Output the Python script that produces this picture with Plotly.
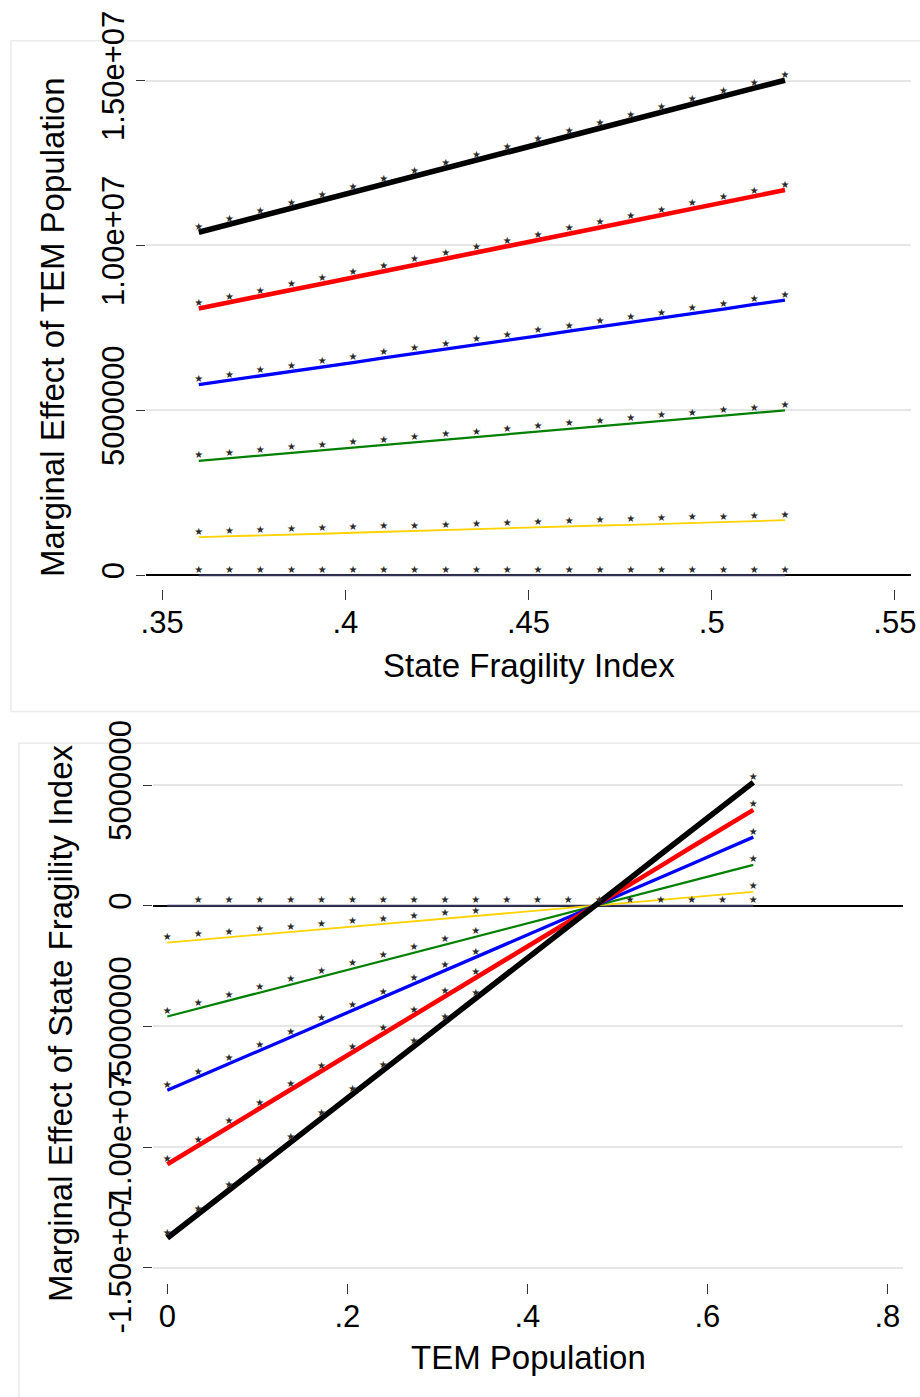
import plotly.graph_objects as go

# ---------------- data ----------------
# Top panel: marginal effect of TEM population across State Fragility Index
sfi = [0.3600, 0.3684, 0.3768, 0.3853, 0.3937, 0.4021, 0.4105, 0.4189, 0.4274, 0.4358,
       0.4442, 0.4526, 0.4611, 0.4695, 0.4779, 0.4863, 0.4947, 0.5032, 0.5116, 0.5200]
top_navy = [0.0] * 20
top_yellow = [1.16e6, 1.18e6, 1.21e6, 1.24e6, 1.26e6, 1.29e6, 1.32e6, 1.34e6, 1.37e6, 1.40e6,
              1.43e6, 1.45e6, 1.48e6, 1.51e6, 1.53e6, 1.56e6, 1.59e6, 1.61e6, 1.64e6, 1.67e6]
top_green = [3.47e6, 3.55e6, 3.63e6, 3.71e6, 3.79e6, 3.87e6, 3.95e6, 4.03e6, 4.11e6, 4.19e6,
             4.28e6, 4.36e6, 4.44e6, 4.52e6, 4.60e6, 4.68e6, 4.76e6, 4.84e6, 4.92e6, 5.00e6]
top_blue = [5.78e6, 5.91e6, 6.05e6, 6.18e6, 6.32e6, 6.45e6, 6.59e6, 6.72e6, 6.86e6, 6.99e6,
            7.13e6, 7.26e6, 7.40e6, 7.53e6, 7.67e6, 7.80e6, 7.94e6, 8.07e6, 8.21e6, 8.34e6]
top_red = [8.09e6, 8.27e6, 8.46e6, 8.65e6, 8.84e6, 9.03e6, 9.22e6, 9.41e6, 9.60e6, 9.79e6,
           9.98e6, 10.16e6, 10.35e6, 10.54e6, 10.73e6, 10.92e6, 11.11e6, 11.30e6, 11.49e6, 11.68e6]
top_black = [10.40e6, 10.64e6, 10.88e6, 11.12e6, 11.37e6, 11.61e6, 11.85e6, 12.10e6, 12.34e6, 12.58e6,
             12.83e6, 13.07e6, 13.31e6, 13.55e6, 13.80e6, 14.04e6, 14.28e6, 14.53e6, 14.77e6, 15.01e6]
top_sig_all = [1] * 20

# Bottom panel: marginal effect of State Fragility Index across TEM population
tem = [0.0000, 0.0343, 0.0685, 0.1028, 0.1371, 0.1713, 0.2056, 0.2399, 0.2742, 0.3084,
       0.3427, 0.3770, 0.4112, 0.4455, 0.4798, 0.5140, 0.5483, 0.5826, 0.6169, 0.6511]
bot_navy = [0.0] * 20
bot_yellow = [-1.53e6, -1.42e6, -1.31e6, -1.20e6, -1.09e6, -0.98e6, -0.87e6, -0.76e6, -0.65e6, -0.54e6,
              -0.43e6, -0.32e6, -0.21e6, -0.10e6, 0.02e6, 0.13e6, 0.24e6, 0.35e6, 0.46e6, 0.57e6]
bot_green = [-4.59e6, -4.26e6, -3.93e6, -3.60e6, -3.26e6, -2.93e6, -2.60e6, -2.27e6, -1.94e6, -1.61e6,
             -1.28e6, -0.95e6, -0.62e6, -0.28e6, 0.05e6, 0.38e6, 0.71e6, 1.04e6, 1.37e6, 1.69e6]
bot_blue = [-7.65e6, -7.10e6, -6.55e6, -5.99e6, -5.44e6, -4.89e6, -4.34e6, -3.79e6, -3.23e6, -2.68e6,
            -2.13e6, -1.58e6, -1.03e6, -0.47e6, 0.08e6, 0.63e6, 1.18e6, 1.73e6, 2.29e6, 2.84e6]
bot_red = [-10.71e6, -9.94e6, -9.16e6, -8.39e6, -7.62e6, -6.85e6, -6.07e6, -5.30e6, -4.53e6, -3.75e6,
           -2.98e6, -2.21e6, -1.44e6, -0.66e6, 0.11e6, 0.88e6, 1.65e6, 2.43e6, 3.20e6, 3.97e6]
bot_black = [-13.77e6, -12.78e6, -11.78e6, -10.79e6, -9.79e6, -8.80e6, -7.81e6, -6.81e6, -5.82e6, -4.83e6,
             -3.83e6, -2.84e6, -1.85e6, -0.85e6, 0.14e6, 1.13e6, 2.13e6, 3.12e6, 4.11e6, 5.11e6]
bot_sig_navy = [0] + [1] * 19
bot_sig_other = [1] * 11 + [0] * 8 + [1]

top_xticks = [0.35, 0.40, 0.45, 0.50, 0.55]
top_xlabels = [".35", ".4", ".45", ".5", ".55"]
top_yticks = [0, 5e6, 1e7, 1.5e7]
top_ylabels = ["0", "5000000", "1.00e+07", "1.50e+07"]
bot_xticks = [0, 0.2, 0.4, 0.6, 0.8]
bot_xlabels = ["0", ".2", ".4", ".6", ".8"]
bot_yticks = [-1.5e7, -1e7, -5e6, 0, 5e6]
bot_ylabels = ["-1.50e+07", "-1.00e+07", "-5000000", "0", "5000000"]

# ---------------- styling ----------------
W, H = 920, 1397
FONT = "Liberation Sans, Arial, sans-serif"
series_style = [  # (color, width) from bottom to top of drawing order
    ("#34345a", 2.0),
    ("#FFD200", 1.8),
    ("#008000", 2.3),
    ("#0000FF", 3.3),
    ("#FF0000", 4.6),
    ("#000000", 5.6),
]
top_series = [top_navy, top_yellow, top_green, top_blue, top_red, top_black]
bot_series = [bot_navy, bot_yellow, bot_green, bot_blue, bot_red, bot_black]

fig = go.Figure()


def add_panel(xs, series, sigs, xa, ya):
    for ys, (col, w) in zip(series, series_style):
        fig.add_trace(go.Scatter(x=xs, y=ys, mode="lines", xaxis=xa, yaxis=ya,
                                 line=dict(color=col, width=w), hoverinfo="skip",
                                 showlegend=False))
    for ys, sg in zip(series, sigs):
        fig.add_trace(go.Scatter(x=xs, y=ys, mode="text", xaxis=xa, yaxis=ya,
                                 text=["★" if s else "" for s in sg],
                                 textposition="top center",
                                 textfont=dict(family="DejaVu Sans", size=10, color="#2a2a2a"),
                                 hoverinfo="skip", showlegend=False))


add_panel(sfi, top_series, [top_sig_all] * 6, "x", "y")
add_panel(tem, bot_series, [bot_sig_navy] + [bot_sig_other] * 5, "x2", "y2")

tickfont = dict(family=FONT, size=31, color="#000000")
common_x = dict(ticks="outside", tickcolor="#333333", tickwidth=1, ticklen=10,
                showgrid=False, zeroline=False, showline=False, tickfont=tickfont,
                automargin=False, ticklabelstandoff=-4)
common_y = dict(ticks="outside", tickcolor="#333333", tickwidth=1, ticklen=9,
                tickangle=-90, showgrid=True, gridcolor="#e6e6e6", gridwidth=1.5,
                zeroline=True, zerolinecolor="#000000", zerolinewidth=1.6,
                showline=False, tickfont=tickfont, automargin=False)

fig.update_layout(
    width=W, height=H,
    margin=dict(l=0, r=0, t=0, b=0, autoexpand=False),
    paper_bgcolor="white", plot_bgcolor="white",
    font=dict(family=FONT, color="#000000"),
    xaxis=dict(domain=[146 / W, 911 / W], anchor="y", range=[0.3456, 0.5544],
               tickvals=top_xticks, ticktext=top_xlabels, **common_x),
    yaxis=dict(domain=[1 - 589 / H, 1 - 65 / H], anchor="x", range=[-0.415e6, 15.47e6],
               tickvals=top_yticks, ticktext=top_ylabels, **common_y),
    xaxis2=dict(domain=[153 / W, 903 / W], anchor="y2", range=[-0.0159, 0.8174],
                tickvals=bot_xticks, ticktext=bot_xlabels, **common_x),
    yaxis2=dict(domain=[1 - 1282.5 / H, 1 - 771 / H], anchor="x2", range=[-15.61e6, 5.58e6],
                tickvals=bot_yticks, ticktext=bot_ylabels, **common_y),
)

# panel outlines
fig.add_shape(type="rect", xref="paper", yref="paper", x0=11 / W, x1=1.02,
              y0=1 - 711.5 / H, y1=1 - 40.7 / H, line=dict(color="#ebebeb", width=1.6), layer="below")
fig.add_shape(type="rect", xref="paper", yref="paper", x0=19 / W, x1=1.02,
              y0=-0.02, y1=1 - 743.3 / H, line=dict(color="#ebebeb", width=1.6), layer="below")

titlefont = dict(family=FONT, size=33, color="#000000")
fig.add_annotation(text="State Fragility Index", xref="paper", yref="paper",
                   x=528.5 / W, y=1 - 665 / H, xanchor="center", yanchor="middle",
                   showarrow=False, font=titlefont)
fig.add_annotation(text="TEM Population", xref="paper", yref="paper",
                   x=528 / W, y=1 - 1357 / H, xanchor="center", yanchor="middle",
                   showarrow=False, font=titlefont)
fig.add_annotation(text="Marginal Effect of TEM Population", xref="paper", yref="paper",
                   x=52 / W, y=1 - 327 / H, xanchor="center", yanchor="middle", textangle=-90,
                   showarrow=False, font=titlefont)
fig.add_annotation(text="Marginal Effect of State Fragility Index", xref="paper", yref="paper",
                   x=60 / W, y=1 - 1024 / H, xanchor="center", yanchor="middle", textangle=-90,
                   showarrow=False, font=titlefont)

fig.write_html("out.html")
